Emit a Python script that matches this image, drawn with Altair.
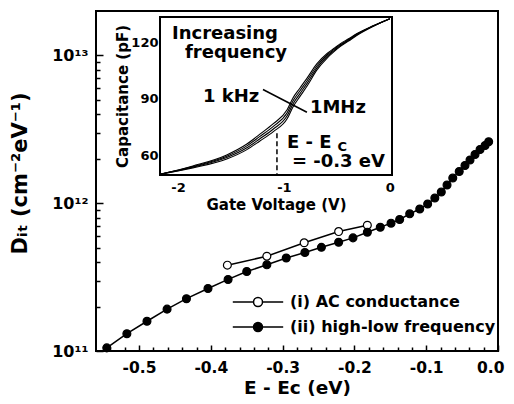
import altair as alt
import pandas as pd

# ---------------- main panel data ----------------
ii_x = [-0.545, -0.517, -0.489, -0.461, -0.434, -0.404, -0.376, -0.350, -0.322, -0.295,
        -0.269, -0.246, -0.222, -0.202, -0.182, -0.164, -0.149, -0.137, -0.123, -0.109,
        -0.098, -0.088, -0.079, -0.071, -0.063, -0.054, -0.046, -0.039, -0.032, -0.025,
        -0.018, -0.013]
ii_y = [1.05e11, 1.31e11, 1.59e11, 1.92e11, 2.26e11, 2.65e11, 3.05e11, 3.45e11, 3.83e11, 4.26e11,
        4.64e11, 5.03e11, 5.44e11, 5.83e11, 6.37e11, 6.88e11, 7.33e11, 7.76e11, 8.48e11, 9.14e11,
        9.88e11, 1.084e12, 1.19e12, 1.33e12, 1.48e12, 1.64e12, 1.80e12, 1.96e12, 2.14e12, 2.31e12,
        2.46e12, 2.61e12]
i_x = [-0.377, -0.322, -0.270, -0.222, -0.182]
i_y = [3.81e11, 4.38e11, 5.40e11, 6.43e11, 7.10e11]
series_labels = ["(i) AC conductance", "(ii) high-low frequency"]

X_DOMAIN = [-0.56, 0.0]
Y_DOMAIN = [1e11, 2e13]
x_ticks = [round(-0.54 + 0.02 * k, 2) for k in range(28)]
y_ticks = [m * 10 ** e for e in (11, 12) for m in range(1, 10)] + [10 ** 13]

# ---------------- inset data ----------------
cv_v = [-2.17, -1.86, -1.54, -1.35, -1.23, -1.10, -0.97, -0.915, -0.85, -0.78, -0.69, -0.59,
        -0.53, -0.47, -0.39, -0.31, -0.16, 0.0]
cv_1 = [49.8, 54.2, 60.1, 65.9, 71.0, 76.7, 84.1, 90.4, 95.6, 101.1, 108.5, 114.2,
        116.7, 119.2, 121.9, 124.7, 128.8, 132.6]
cv_2 = [49.8, 53.9, 59.4, 64.9, 69.8, 75.3, 82.5, 88.8, 94.1, 99.7, 107.4, 113.4,
        116.1, 118.7, 121.5, 124.4, 128.7, 132.6]
cv_3 = [49.8, 53.6, 58.7, 63.9, 68.6, 73.9, 80.9, 87.2, 92.6, 98.3, 106.3, 112.6,
        115.5, 118.2, 121.1, 124.1, 128.6, 132.6]
cv_4 = [49.8, 53.2, 57.9, 62.9, 67.4, 72.5, 79.3, 85.6, 91.1, 96.9, 105.2, 111.8,
        114.9, 117.7, 120.7, 123.8, 128.5, 132.6]
cv_names = ["1 kHz", "f2", "f3", "1 MHz"]

IX_DOMAIN = [-2.17, 0.02]
IY_DOMAIN = [49.4, 133.5]
ix_ticks = [-2, -1.5, -1, -0.5, 0]
iy_ticks = [60, 75, 90, 105, 120]

dash_v = [-1.066]
dash_c = [71.6]

pointer_v = [-1.198, -0.783]
pointer_c = [94.9, 82.8]

ann_text = ["Increasing", "frequency", "1 kHz", "1MHz", "E - E", "= -0.3 eV"]
ann_v = [-2.057, -1.934, -1.764, -0.755, -0.972, -0.925]
ann_c = [121.9, 111.9, 88.1, 82.2, 63.7, 53.6]
sub_text = ["C"]
sub_v = [-0.495]
sub_c = [62.4]

# ---------------- layout (plot-area pixels) ----------------
W, H = 402, 340
INSET_L, INSET_R, INSET_T, INSET_B = 64, 296, 6, 164
FONT = "DejaVu Sans"

# ---------------- tables ----------------
main_df = pd.DataFrame({
    "x": i_x + ii_x,
    "y": i_y + ii_y,
    "series": [series_labels[0]] * len(i_x) + [series_labels[1]] * len(ii_x),
})

cv_rows = []
for name, vals in zip(cv_names, [cv_1, cv_2, cv_3, cv_4]):
    for v, c in zip(cv_v, vals):
        cv_rows.append({"V": v, "C": c, "curve": name})
cv_df = pd.DataFrame(cv_rows)

frame_df = pd.DataFrame({"V": [IX_DOMAIN[0]], "V2": [IX_DOMAIN[1]],
                         "C": [IY_DOMAIN[0]], "C2": [IY_DOMAIN[1]]})
dash_df = pd.DataFrame({"V": dash_v, "C": dash_c, "C2": [IY_DOMAIN[0]]})
pointer_df = pd.DataFrame({"V": [pointer_v[0]], "V2": [pointer_v[1]],
                           "C": [pointer_c[0]], "C2": [pointer_c[1]]})
ann_df = pd.DataFrame({"V": ann_v, "C": ann_c, "t": ann_text})
sub_df = pd.DataFrame({"V": sub_v, "C": sub_c, "t": sub_text})

# ---------------- encodings ----------------
major_x = "abs(datum.value*10 - round(datum.value*10)) < 0.001"
major_y = "datum.value == 1e11 || datum.value == 1e12 || datum.value == 1e13"

def main_x():
    return alt.X("x:Q", scale=alt.Scale(domain=X_DOMAIN, nice=False, zero=False),
                 axis=alt.Axis(orient="top", offset=-H, values=x_ticks,
                               tickSize={"condition": {"test": major_x, "value": 6}, "value": 4},
                               labelExpr=f"{major_x} ? (datum.value == 0 ? '0.0' : '' + datum.value) : ''",
                               labelBaseline="top", labelPadding=-15, labelFontSize=15.5,
                               labelFlush=True, labelFlushOffset=6, labelOverlap=False,
                               title="E - Eᴄ (eV)", titleFontSize=18.5, titleX=W / 2, titleY=36,
                               titleAlign="center", titleBaseline="middle"))

def main_y():
    return alt.Y("y:Q", scale=alt.Scale(type="log", domain=Y_DOMAIN, nice=False),
                 axis=alt.Axis(orient="right", offset=-W, values=y_ticks,
                               tickSize={"condition": {"test": major_y, "value": 7}, "value": 4},
                               labelExpr="datum.value == 1e11 ? '10¹¹' : datum.value == 1e12 ? '10¹²' : datum.value == 1e13 ? '10¹³' : ''",
                               labelAlign="right", labelBaseline="middle", labelPadding=-15,
                               labelFontSize=16, labelFlush=False, labelOverlap=False,
                               title="Dᵢₜ (cm⁻²eV⁻¹)", titleFontSize=21, titleX=-76, titleY=162,
                               titleAngle=270, titleAlign="center", titleBaseline="middle"))

def inset_x():
    return alt.X("V:Q", scale=alt.Scale(domain=IX_DOMAIN, range=[INSET_L, INSET_R], nice=False, zero=False),
                 axis=alt.Axis(orient="top", offset=-INSET_B, values=ix_ticks, tickSize=4,
                               labelExpr="datum.value == round(datum.value) ? '' + datum.value : ''",
                               labelBaseline="top", labelPadding=-10, labelFontSize=13,
                               labelFlush=False, labelOverlap=False,
                               title="Gate Voltage (V)", titleFontSize=15,
                               titleX=(INSET_L + INSET_R) / 2, titleY=29,
                               titleAlign="center", titleBaseline="middle"))

def inset_y():
    return alt.Y("C:Q", scale=alt.Scale(domain=IY_DOMAIN, range=[INSET_B, INSET_T], nice=False, zero=False),
                 axis=alt.Axis(orient="right", offset=-(W - INSET_L), values=iy_ticks, tickSize=4,
                               labelExpr="datum.value % 30 == 0 ? '' + datum.value : ''",
                               labelAlign="right", labelBaseline="middle", labelPadding=-6,
                               labelFontSize=13, labelFlush=False, labelOverlap=False,
                               title="Capacitance (pF)", titleFontSize=15, titleX=-38,
                               titleY=(INSET_T + INSET_B) / 2, titleAngle=270,
                               titleAlign="center", titleBaseline="middle"))

LEGEND_PATH = ("M-5.6,0L-1,0M1,0L5.6,0"
               "M1,0A1,1 0 1,1 -1,0A1,1 0 1,1 1,0Z")

# ---------------- main layers ----------------
main_lines = alt.Chart(main_df).mark_line(color="black", strokeWidth=1.5).encode(
    x=main_x(), y=main_y(), detail="series:N")

main_points = alt.Chart(main_df).mark_point(
    filled=True, stroke="black", strokeWidth=1.2, size=62, opacity=1).encode(
    x=main_x(), y=main_y(),
    fill=alt.Fill("series:N",
                  scale=alt.Scale(domain=series_labels, range=["white", "black"]),
                  legend=alt.Legend(title=None, orient="none", legendX=154, legendY=283,
                                    symbolType=LEGEND_PATH, symbolSize=81,
                                    symbolStrokeColor="black", symbolStrokeWidth=1.5,
                                    symbolOpacity=1,
                                    labelFont=FONT, labelFontWeight="bold", labelFontSize=16,
                                    labelColor="black", labelOffset=24, labelLimit=400,
                                    rowPadding=9)))

main = alt.layer(main_lines, main_points)

# ---------------- inset layers ----------------
frame = alt.Chart(frame_df).mark_rect(fill="white", stroke="black", strokeWidth=2).encode(
    x=inset_x(), x2="V2", y=inset_y(), y2="C2")

curves = alt.Chart(cv_df).mark_line(color="black", strokeWidth=1.1, interpolate="monotone").encode(
    x=inset_x(), y=inset_y(), detail="curve:N")

dash = alt.Chart(dash_df).mark_rule(color="black", strokeWidth=1.5, strokeDash=[5, 3]).encode(
    x=inset_x(), y=inset_y(), y2="C2")

pointer = alt.Chart(pointer_df).mark_rule(color="black", strokeWidth=1.5).encode(
    x=inset_x(), x2="V2", y=inset_y(), y2="C2")

ann = alt.Chart(ann_df).mark_text(align="left", baseline="alphabetic", font=FONT,
                                  fontWeight="bold", fontSize=18, color="black").encode(
    x=inset_x(), y=inset_y(), text="t:N")

sub = alt.Chart(sub_df).mark_text(align="left", baseline="alphabetic", font=FONT,
                                  fontWeight="bold", fontSize=13, color="black").encode(
    x=inset_x(), y=inset_y(), text="t:N")

inset = alt.layer(frame, curves, dash, pointer, ann, sub)

chart = alt.layer(main, inset).resolve_scale(x="independent", y="independent").properties(
    width=W, height=H,
    autosize=alt.AutoSizeParams(type="none"),
    padding={"left": 88, "top": 3, "right": 8, "bottom": 45},
).configure_view(stroke="black", strokeWidth=2).configure_axis(
    domain=False, grid=False, tickColor="black", tickWidth=1.5, zindex=1,
    labelFont=FONT, labelFontWeight="bold", labelColor="black",
    titleFont=FONT, titleFontWeight="bold", titleColor="black",
)

chart.save("out.html", embed_options={"renderer": "svg", "actions": False})
